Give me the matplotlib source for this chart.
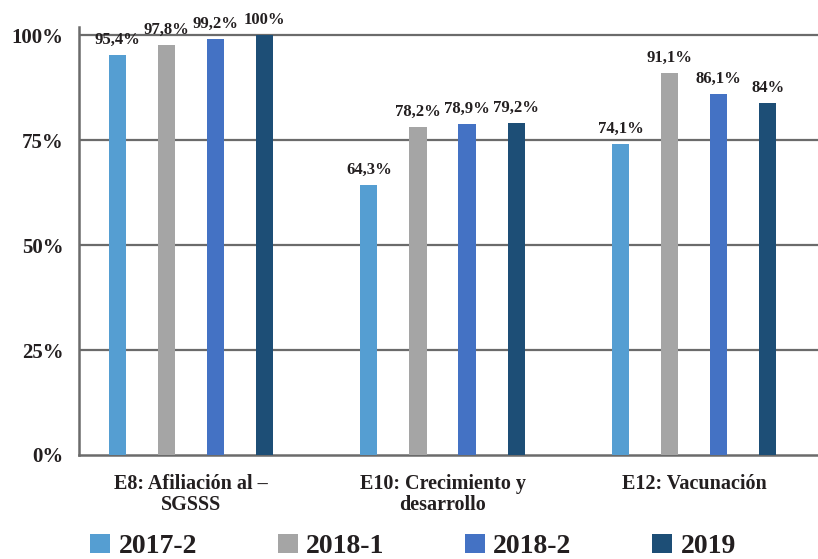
import numpy as np
import matplotlib
matplotlib.use("Agg")
import matplotlib.pyplot as plt

# data
categories = ["E8: Afiliación al –\nSGSSS", "E10: Crecimiento y\ndesarrollo", "E12: Vacunación"]
series = ["2017-2", "2018-1", "2018-2", "2019"]
v_2017_2 = [95.4, 64.3, 74.1]
v_2018_1 = [97.8, 78.2, 91.1]
v_2018_2 = [99.2, 78.9, 86.1]
v_2019 = [100, 79.2, 84]
labels_2017_2 = ["95,4%", "64,3%", "74,1%"]
labels_2018_1 = ["97,8%", "78,2%", "91,1%"]
labels_2018_2 = ["99,2%", "78,9%", "86,1%"]
labels_2019 = ["100%", "79,2%", "84%"]
yticks = [0, 25, 50, 75, 100]
ytick_labels = ["0%", "25%", "50%", "75%", "100%"]

colors = ["#559ed2", "#a5a5a5", "#4472c4", "#1d4e76"]
text_color = "#231f20"
grid_color = "#6b6b6b"

plt.rcParams['font.family'] = ['Liberation Serif', 'DejaVu Serif']
plt.rcParams['font.weight'] = 'bold'

fig = plt.figure(figsize=(8.18, 5.59), dpi=100)
ax = fig.add_axes([79 / 818, 104 / 559, 1 - 79 / 818, (455 - 27) / 559])

x = np.arange(len(categories))
width = 0.068
step = 0.195
all_vals = [v_2017_2, v_2018_1, v_2018_2, v_2019]
all_labels = [labels_2017_2, labels_2018_1, labels_2018_2, labels_2019]

bars = []
for i, (vals, labs) in enumerate(zip(all_vals, all_labels)):
    pos = x + (i - 1.5) * step
    b = ax.bar(pos, vals, width=width, color=colors[i], label=series[i], zorder=3)
    bars.append(b)
    for p, v, t in zip(pos, vals, labs):
        ax.annotate(t, (p, v), xytext=(0, 5), textcoords="offset points",
                    ha="center", va="bottom", fontsize=12, fontweight="bold",
                    color=text_color, annotation_clip=False)

ax.set_ylim(0, 102)
ax.set_xlim(-0.4453, 2.493)

# horizontal grid lines
for yv in yticks[1:]:
    ax.axhline(yv, color=grid_color, linewidth=1.6, zorder=1)

ax.set_yticks(yticks)
ax.set_yticklabels(ytick_labels, fontsize=15, fontweight="bold", color=text_color)
ax.set_xticks(x)
ax.set_xticklabels(categories, fontsize=14.5, fontweight="bold", color=text_color,
                   linespacing=1.05)
ax.tick_params(axis="y", length=0, pad=11)
ax.tick_params(axis="x", length=0, pad=14)

for s in ["top", "right"]:
    ax.spines[s].set_visible(False)
for s in ["left", "bottom"]:
    ax.spines[s].set_color(grid_color)
    ax.spines[s].set_linewidth(1.8)

leg = fig.legend(handles=bars, labels=series, loc="center", ncol=4,
                 bbox_to_anchor=(0.505, 0.022), frameon=False, fontsize=20,
                 handlelength=0.72, handleheight=0.7, handletextpad=0.3,
                 columnspacing=2.9, borderpad=0)
for t in leg.get_texts():
    t.set_color(text_color)
    t.set_fontweight("bold")

fig.savefig("out.png", dpi=100)
